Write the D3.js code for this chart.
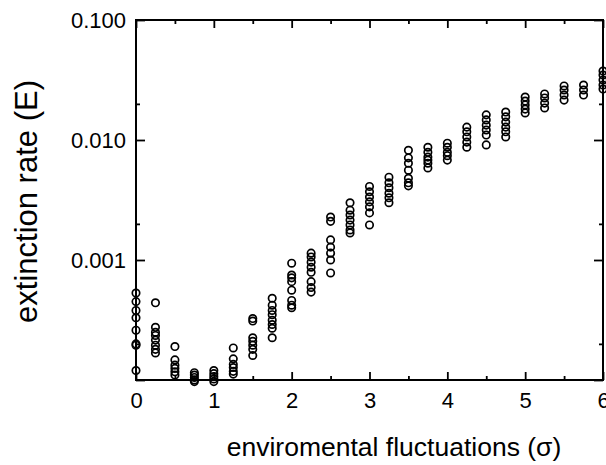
<!DOCTYPE html>
<html>
<head>
<meta charset="utf-8">
<script src="https://cdn.jsdelivr.net/npm/d3@7/dist/d3.min.js"></script>
<style>
  html, body { margin: 0; padding: 0; background: #fff; }
  svg { display: block; }
  text { font-family: "Liberation Sans", Arial, Helvetica, sans-serif; fill: #000; }
</style>
</head>
<body>
<svg id="chart" width="606" height="465"></svg>
<script>
// ---- data ----
const sigmaValues = [0, 0.25, 0.5, 0.75, 1, 1.25, 1.5, 1.75, 2, 2.25, 2.5, 2.75, 3,
                     3.25, 3.5, 3.75, 4, 4.25, 4.5, 4.75, 5, 5.25, 5.5, 5.75, 6];
const extinctionRates = [
  [5.3e-4, 4.5e-4, 3.8e-4, 3.3e-4, 2.6e-4, 2.0e-4, 1.95e-4, 1.2e-4],
  [4.4e-4, 2.75e-4, 2.5e-4, 2.35e-4, 2.15e-4, 1.95e-4, 1.8e-4, 1.68e-4],
  [1.9e-4, 1.47e-4, 1.33e-4, 1.25e-4, 1.17e-4, 1.1e-4],
  [1.15e-4, 1.1e-4, 1.05e-4, 1.0e-4, 0.97e-4],
  [1.2e-4, 1.13e-4, 1.07e-4, 1.02e-4, 0.97e-4],
  [1.85e-4, 1.5e-4, 1.35e-4, 1.27e-4, 1.18e-4, 1.12e-4],
  [3.25e-4, 3.1e-4, 2.25e-4, 2.1e-4, 1.95e-4, 1.8e-4, 1.6e-4],
  [4.8e-4, 4.2e-4, 3.8e-4, 3.5e-4, 3.15e-4, 2.9e-4, 2.7e-4, 2.25e-4],
  [9.4e-4, 7.5e-4, 7.1e-4, 6.6e-4, 5.6e-4, 4.6e-4, 4.2e-4, 4.0e-4],
  [1.14e-3, 1.06e-3, 9.6e-4, 8.7e-4, 7.9e-4, 6.6e-4, 5.9e-4, 5.4e-4],
  [2.28e-3, 2.1e-3, 1.47e-3, 1.28e-3, 1.14e-3, 1.0e-3, 7.8e-4],
  [3.0e-3, 2.6e-3, 2.37e-3, 2.15e-3, 1.96e-3, 1.78e-3, 1.68e-3],
  [4.1e-3, 3.7e-3, 3.35e-3, 3.05e-3, 2.77e-3, 2.47e-3, 1.96e-3],
  [4.9e-3, 4.4e-3, 4.0e-3, 3.6e-3, 3.3e-3, 3.0e-3],
  [8.2e-3, 7.1e-3, 6.4e-3, 5.6e-3, 4.8e-3, 4.4e-3, 4.15e-3],
  [8.7e-3, 7.9e-3, 7.2e-3, 6.8e-3, 6.4e-3, 5.85e-3],
  [9.4e-3, 8.7e-3, 7.9e-3, 7.4e-3, 6.8e-3],
  [1.28e-2, 1.17e-2, 1.06e-2, 9.6e-3, 8.7e-3],
  [1.62e-2, 1.47e-2, 1.33e-2, 1.21e-2, 1.1e-2, 9.1e-3],
  [1.71e-2, 1.56e-2, 1.41e-2, 1.28e-2, 1.17e-2, 1.06e-2],
  [2.28e-2, 2.11e-2, 1.96e-2, 1.81e-2, 1.68e-2],
  [2.42e-2, 2.24e-2, 2.03e-2, 1.85e-2],
  [2.82e-2, 2.61e-2, 2.37e-2, 2.15e-2],
  [2.87e-2, 2.61e-2, 2.37e-2],
  [3.76e-2, 3.48e-2, 3.16e-2, 2.87e-2, 2.66e-2]
];
const xMajorTicks = [0, 1, 2, 3, 4, 5, 6];
const xMinorTicks = [0.5, 1.5, 2.5, 3.5, 4.5, 5.5];
const yMajorTicks = [0.0001, 0.001, 0.01, 0.1];
const yMinorTicks = [0.0002, 0.002, 0.02];
const yTickLabels = {"0.001": "0.001", "0.01": "0.010", "0.1": "0.100"};
const xTitle = "enviromental fluctuations (\u03c3)";
const yTitle = "extinction rate (E)";

// ---- layout ----
const L = 136, R = 603, T = 20, B = 380;
const svg = d3.select("#chart");

const x = d3.scaleLinear().domain([0, 6]).range([L, R]);
const y = d3.scaleLog().domain([0.0001, 0.1]).range([B, T]);

const points = [];
sigmaValues.forEach((s, i) => extinctionRates[i].forEach(v => points.push({s, v})));

function styleAxis(g) {
  g.select(".domain").remove();
  g.selectAll(".tick line").attr("stroke", "#000").attr("stroke-width", 1.8);
  g.selectAll("text").attr("font-size", 22).attr("fill", "#000")
    .attr("font-family", '"Liberation Sans", Arial, Helvetica, sans-serif');
}

// bottom major with labels
svg.append("g").attr("transform", `translate(0,${B})`)
  .call(d3.axisBottom(x).tickValues(xMajorTicks).tickSize(-8).tickPadding(12).tickFormat(d3.format("d")))
  .call(styleAxis);
// bottom minor
svg.append("g").attr("transform", `translate(0,${B})`)
  .call(d3.axisBottom(x).tickValues(xMinorTicks).tickSize(-4).tickFormat(""))
  .call(styleAxis);
// top major/minor
svg.append("g").attr("transform", `translate(0,${T})`)
  .call(d3.axisTop(x).tickValues(xMajorTicks).tickSize(-8).tickFormat(""))
  .call(styleAxis);
svg.append("g").attr("transform", `translate(0,${T})`)
  .call(d3.axisTop(x).tickValues(xMinorTicks).tickSize(-4).tickFormat(""))
  .call(styleAxis);
// left major with labels
svg.append("g").attr("transform", `translate(${L},0)`)
  .call(d3.axisLeft(y).tickValues(yMajorTicks).tickSize(-9).tickPadding(10)
        .tickFormat(d => yTickLabels[String(d)] || ""))
  .call(styleAxis);
svg.append("g").attr("transform", `translate(${L},0)`)
  .call(d3.axisLeft(y).tickValues(yMinorTicks).tickSize(-4).tickFormat(""))
  .call(styleAxis);
// right
svg.append("g").attr("transform", `translate(${R},0)`)
  .call(d3.axisRight(y).tickValues(yMajorTicks).tickSize(-9).tickFormat(""))
  .call(styleAxis);
svg.append("g").attr("transform", `translate(${R},0)`)
  .call(d3.axisRight(y).tickValues(yMinorTicks).tickSize(-4).tickFormat(""))
  .call(styleAxis);

// frame
svg.append("rect").attr("x", L).attr("y", T).attr("width", R - L).attr("height", B - T)
  .attr("fill", "none").attr("stroke", "#000").attr("stroke-width", 2);

// points
svg.append("g").selectAll("circle").data(points).join("circle")
  .attr("cx", d => x(d.s)).attr("cy", d => y(d.v)).attr("r", 3.7)
  .attr("fill", "none").attr("stroke", "#000").attr("stroke-width", 1.7);

// titles
svg.append("text").attr("x", 394).attr("y", 456).attr("text-anchor", "middle")
  .attr("font-size", 26.5).text(xTitle);
svg.append("text").attr("transform", "translate(37,201.5) rotate(-90)")
  .attr("text-anchor", "middle").attr("font-size", 31).text(yTitle);
</script>
</body>
</html>
